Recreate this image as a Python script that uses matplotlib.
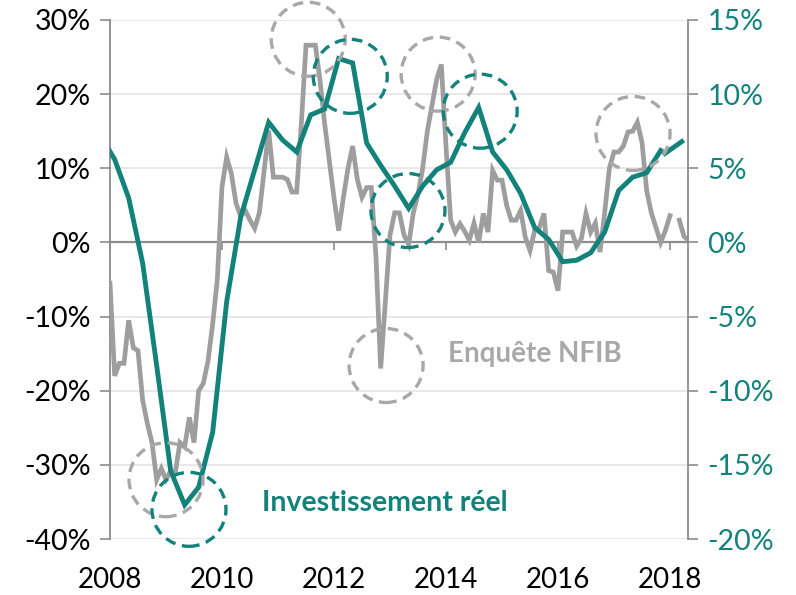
import numpy as np
import matplotlib
matplotlib.use("Agg")
import matplotlib.pyplot as plt
from matplotlib import transforms
from matplotlib.patches import Circle

# ---------------- data ----------------
# NFIB survey (left axis, %), monthly from Jan 2008
nfib = [-5.5, -18, -16.3, -16.3, -10.5, -14.2, -14.6, -21.3, -24.4, -27, -32, -30.5,
        -32, -30.8, -31, -27, -27.6, -23.6, -27, -20, -19, -16, -11, -5,
        7.5, 11.5, 9.3, 5.3, 3.5, 4.3, 3, 1.9, 4, 9.5, 15.1, 8.8,
        8.8, 8.8, 8.5, 6.8, 6.8, 16, 26.6, 26.6, 26.6, 21.9, 16, 11,
        6, 1.6, 6, 10, 13, 8.5, 6.1, 7.4, 7.4, -2, -17, -8,
        1, 4, 4, 1, -0.3, 4, 6.5, 10, 15, 18.5, 22, 24,
        13, 3, 1.4, 2.5, 1.5, 0.3, 2.6, 0, 3.9, 1.4, 9.7, 8.4,
        8.4, 5, 3, 3, 4.3, 0.7, -1.1, 1.6, 2, 3.9, -3.8, -4,
        -6.5, 1.4, 1.4, 1.4, -0.5, 0.5, 3.9, 1.4, 2.6, -1.3, 4, 10,
        12.2, 12.2, 13, 14.9, 15, 16.2, 13.5, 7, 4, 2, 0, 1.6,
        3.6, np.nan, 3, 0.8, 0.3]
nfib_dates = 2008 + np.arange(len(nfib)) / 12

# Real investment (right axis, %), quarterly, plotted at mid-quarter
invest = [7.2, 5.6, 3.0, -1.4, -8.3, -15.4, -17.7, -16.5, -12.8, -4.0, 1.7, 4.9,
          8.1, 6.9, 6.1, 8.6, 9.0, 12.4, 12.1, 6.7, 5.2, 3.8, 2.3, 3.8,
          4.9, 5.4, 7.4, 9.1, 6.1, 4.9, 3.3, 1.0, 0.2, -1.3, -1.2, -0.7,
          0.7, 3.5, 4.4, 4.7, 6.2]
invest_dates = 2008 + (1 + 3 * np.arange(-1, len(invest) - 1)) / 12
# latest segment (drawn separately after a break)
invest_last = [6.0, 6.8]
invest_last_dates = [2017.91, 2018.21]

inv_x = np.concatenate([invest_dates, [np.nan], invest_last_dates])
inv_y = np.concatenate([invest, [np.nan], invest_last])

# highlighted episodes (year, left-axis value)
circles_grey = [(2011.54, 27.4), (2013.86, 22.7), (2012.93, -16.6),
                (2017.34, 14.7), (2009.0, -32.0)]
circles_teal = [(2012.29, 22.4), (2014.61, 17.7), (2013.32, 4.3),
                (2009.41, -36.0)]

left_ticks = [-40, -30, -20, -10, 0, 10, 20, 30]
right_ticks = [-20, -15, -10, -5, 0, 5, 10, 15]
x_ticks = [2008, 2010, 2012, 2014, 2016, 2018]

# ---------------- style ----------------
TEAL = "#12827B"
GREY = "#9E9E9E"
CIRC_GREY = "#A8A8A8"
AXC = "#8C8C8C"
GRID = "#E6E6E6"
FONT = "Lato"
plt.rcParams["font.family"] = [FONT, "DejaVu Sans"]

fig = plt.figure(figsize=(7.96, 5.95), dpi=100)
ax = fig.add_axes([110 / 796, 1 - 539 / 595, (688 - 110) / 796, (539 - 20) / 595])
ax2 = ax.twinx()

ax.set_xlim(2008, 2008 + (688 - 110) / 56)
ax.set_ylim(-40, 30)
ax2.set_ylim(-20, 15)

# grid
for v in left_ticks:
    if v != 0:
        ax.axhline(v, color=GRID, lw=1.3, zorder=0)

# lines
ax.plot(nfib_dates, nfib, color=GREY, lw=3.4, zorder=3, solid_joinstyle="miter")
ax2.plot(inv_x, inv_y, color=TEAL, lw=3.5, zorder=4, solid_joinstyle="miter")

# dashed circles (pixel-sized, centred on data positions)
R = 0.37
for (xc, yc), col in [(c, CIRC_GREY) for c in circles_grey] + [(c, TEAL) for c in circles_teal]:
    tr = fig.dpi_scale_trans + transforms.ScaledTranslation(xc, yc, ax.transData)
    circ = Circle((0, 0), R, transform=tr, fill=False, edgecolor=col, lw=2.4,
                  linestyle=(0, (3.2, 2.0)), zorder=5, clip_on=False)
    ax2.add_artist(circ)

# axes styling
for a in (ax, ax2):
    a.spines["top"].set_visible(False)
    a.set_facecolor("none")
ax2.spines["bottom"].set_visible(False)
ax.spines["right"].set_visible(False)
ax2.spines["left"].set_visible(False)
ax.spines["left"].set_color(AXC)
ax.spines["left"].set_linewidth(1.3)
ax2.spines["right"].set_color(AXC)
ax2.spines["right"].set_linewidth(1.3)
ax.spines["bottom"].set_position(("data", 0))
ax.spines["bottom"].set_color(AXC)
ax.spines["bottom"].set_linewidth(1.6)
ax.spines["bottom"].set_zorder(2)

ax.set_yticks(left_ticks)
ax.set_yticklabels([f"{v}%" for v in left_ticks])
ax2.set_yticks(right_ticks)
ax2.set_yticklabels([f"{v}%" for v in right_ticks])
ax.tick_params(axis="y", direction="out", length=7, width=1.2, color=AXC,
               labelsize=20.5, labelcolor="black", pad=7)
ax2.tick_params(axis="y", direction="out", length=7, width=1.2, color=AXC,
                labelsize=20.5, labelcolor=TEAL, pad=7)

ax.set_xticks(x_ticks)
ax.set_xticklabels([str(v) for v in x_ticks])
ax.tick_params(axis="x", direction="out", length=6, width=1.2, color=AXC,
               labelsize=20, labelcolor="black", pad=228)

# labels
ax.text(2014.03, -15.1, "Enquête NFIB", color=CIRC_GREY, fontsize=20,
        fontweight="bold", ha="left", va="center", zorder=6)
ax.text(2010.71, -35.1, "Investissement réel", color=TEAL, fontsize=20.5,
        fontweight="bold", ha="left", va="center", zorder=6)

fig.savefig("out.png", dpi=100)
